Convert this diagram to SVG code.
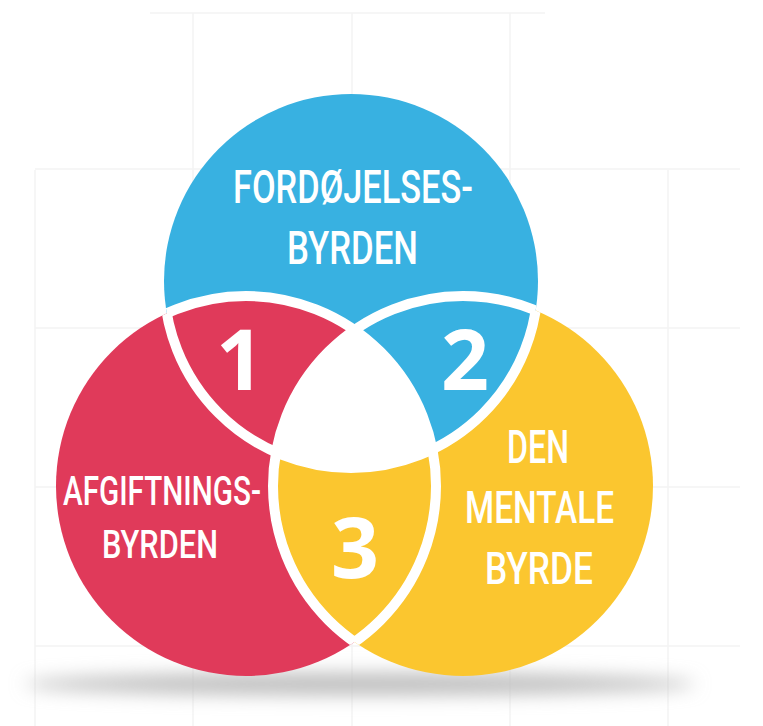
<svg xmlns="http://www.w3.org/2000/svg" width="763" height="726" viewBox="0 0 763 726">
<style>
.grid{stroke:#f4f4f4;stroke-width:1.5;fill:none}
.sep{fill:none;stroke:#ffffff;stroke-width:10}
.lbl{fill:#ffffff;font-family:Roboto,"Liberation Sans",sans-serif;font-weight:500}
.num{fill:#ffffff;font-family:"Open Sans","Liberation Sans",sans-serif;font-weight:700;font-size:84px;text-anchor:middle}
</style>
<defs>
<clipPath id="cBlue"><circle cx="351" cy="281" r="187"/></clipPath>
<clipPath id="cRed"><circle cx="246" cy="486" r="190"/></clipPath>
<clipPath id="cYellow"><circle cx="463" cy="486" r="190"/></clipPath>
<clipPath id="cRY"><circle cx="246" cy="486" r="190"/><circle cx="463" cy="486" r="190"/></clipPath>
<clipPath id="cBY"><circle cx="351" cy="281" r="187"/><circle cx="463" cy="486" r="190"/></clipPath>
<clipPath id="cBR"><circle cx="351" cy="281" r="187"/><circle cx="246" cy="486" r="190"/></clipPath>
<filter id="blur" x="-20%" y="-200%" width="140%" height="500%"><feGaussianBlur stdDeviation="9"/></filter>
</defs>
<rect width="763" height="726" fill="#ffffff"/>
<g id="grid">
<path class="grid" d="M150 13H545M193 13V726M352 13V726M510 13V726M35 170V726M668 170V726M35 169H740M35 328H740M35 487H740M35 646H740"/>
</g>
<ellipse id="shadow" cx="360" cy="684" rx="335" ry="11" fill="#bdbdbd" filter="url(#blur)"/>
<g id="circle-yellow"><circle cx="463" cy="486" r="190" fill="#fbc62f"/></g>
<g id="circle-blue"><circle cx="351" cy="281" r="187" fill="#38b1e1"/></g>
<g id="circle-red"><circle cx="246" cy="486" r="190" fill="#e03a5a"/></g>
<g id="region-3"><circle cx="463" cy="486" r="190" fill="#fbc62f" clip-path="url(#cRed)"/></g>
<g id="region-center" clip-path="url(#cYellow)"><circle cx="351" cy="281" r="187" fill="#ffffff" clip-path="url(#cRed)"/></g>
<g id="separators">
<circle class="sep" cx="351" cy="281" r="187" clip-path="url(#cRY)"/>
<circle class="sep" cx="246" cy="486" r="190" clip-path="url(#cBY)"/>
<circle class="sep" cx="463" cy="486" r="190" clip-path="url(#cBR)"/>
</g>
<g id="label-blue">
<text class="lbl" x="233" y="203" font-size="47" textLength="240" lengthAdjust="spacingAndGlyphs">FORDØJELSES-</text>
<text class="lbl" x="287" y="264" font-size="46" textLength="131" lengthAdjust="spacingAndGlyphs">BYRDEN</text>
</g>
<g id="label-red">
<text class="lbl" x="63" y="505" font-size="40" textLength="198" lengthAdjust="spacingAndGlyphs">AFGIFTNINGS-</text>
<text class="lbl" x="102" y="558" font-size="38" textLength="116" lengthAdjust="spacingAndGlyphs">BYRDEN</text>
</g>
<g id="label-yellow">
<text class="lbl" x="507" y="463" font-size="46" textLength="62" lengthAdjust="spacingAndGlyphs">DEN</text>
<text class="lbl" x="465" y="523" font-size="44" textLength="149" lengthAdjust="spacingAndGlyphs">MENTALE</text>
<text class="lbl" x="485" y="584" font-size="45" textLength="108" lengthAdjust="spacingAndGlyphs">BYRDE</text>
</g>
<g id="numbers">
<text class="num" x="240" y="390">1</text>
<text class="num" x="465" y="390">2</text>
<text class="num" x="355" y="578">3</text>
</g>
</svg>
